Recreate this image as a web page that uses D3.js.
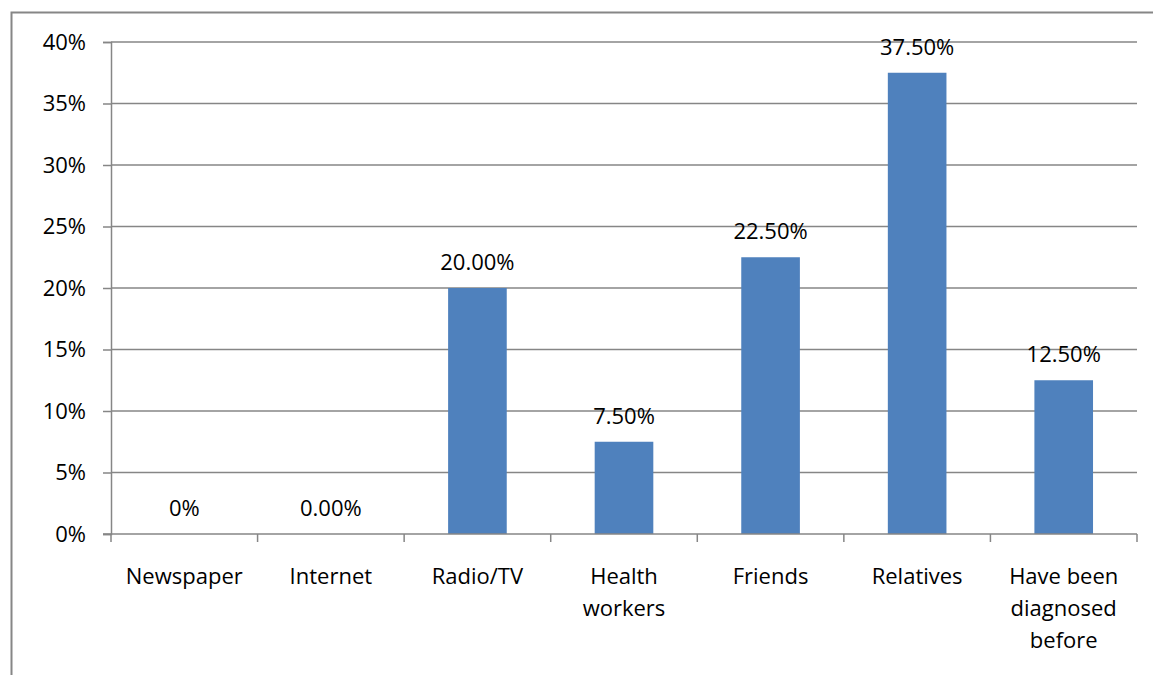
<!DOCTYPE html>
<html>
<head>
<meta charset="utf-8">
<script src="https://cdn.jsdelivr.net/npm/d3@7"></script>
<style>
  body { margin: 0; background: #fff; }
  text { font-family: "Open Sans", sans-serif; fill: #000; }
</style>
</head>
<body>
<svg id="chart" width="1153" height="675"></svg>
<script>
var categories = ["Newspaper", "Internet", "Radio/TV", "Health workers", "Friends", "Relatives", "Have been diagnosed before"];
var categoryLines = [["Newspaper"], ["Internet"], ["Radio/TV"], ["Health", "workers"], ["Friends"], ["Relatives"], ["Have been", "diagnosed", "before"]];
var values = [0, 0, 0.20, 0.075, 0.225, 0.375, 0.125];
var valueLabels = ["0%", "0.00%", "20.00%", "7.50%", "22.50%", "37.50%", "12.50%"];
var yTicks = [0, 0.05, 0.10, 0.15, 0.20, 0.25, 0.30, 0.35, 0.40];

var svg = d3.select("#chart");
var plotLeft = 111, plotRight = 1137, plotTop = 42, plotBottom = 534;
var gray = "#868686";
var fontSize = 22;

// outer chart border (runs off the right and bottom of the picture)
svg.append("rect")
    .attr("x", 11.5).attr("y", 12.5)
    .attr("width", 1200).attr("height", 700)
    .attr("fill", "none").attr("stroke", gray).attr("stroke-width", 2);

var x = d3.scaleBand().domain(categories).range([plotLeft, plotRight]).paddingInner(0.6).paddingOuter(0.3);
var xOuter = d3.scaleBand().domain(categories).range([plotLeft, plotRight]);
var y = d3.scaleLinear().domain([0, 0.4]).range([plotBottom, plotTop]);

// gridlines
svg.append("g").selectAll("line")
    .data(yTicks.slice(1))
  .enter().append("line")
    .attr("x1", plotLeft).attr("x2", plotRight)
    .attr("y1", function(d) { return y(d); }).attr("y2", function(d) { return y(d); })
    .attr("stroke", gray).attr("stroke-width", 1.5);

// bars
svg.append("g").selectAll("rect")
    .data(values)
  .enter().append("rect")
    .attr("x", function(d, i) { return x(categories[i]); })
    .attr("width", x.bandwidth())
    .attr("y", function(d) { return y(d); })
    .attr("height", function(d) { return plotBottom - y(d); })
    .attr("fill", "#4f81bd");

// y axis
var yAxis = svg.append("g")
    .attr("transform", "translate(" + plotLeft + ",0)")
    .call(d3.axisLeft(y).tickValues(yTicks).tickSize(8).tickPadding(17)
        .tickFormat(function(d) { return Math.round(d * 100) + "%"; }));
yAxis.select(".domain").attr("stroke", gray).attr("stroke-width", 1.5);
yAxis.selectAll(".tick line").attr("stroke", gray).attr("stroke-width", 1.5);
yAxis.selectAll("text").attr("font-size", fontSize).attr("fill", "#000")
    .attr("font-family", "'Open Sans', sans-serif");

// x axis line and ticks at category boundaries
svg.append("line")
    .attr("x1", plotLeft - 8).attr("x2", plotRight)
    .attr("y1", plotBottom).attr("y2", plotBottom)
    .attr("stroke", gray).attr("stroke-width", 1.5);
svg.append("g").selectAll("line")
    .data(categories.concat([null]))
  .enter().append("line")
    .attr("x1", function(d, i) { return plotLeft + i * xOuter.step(); })
    .attr("x2", function(d, i) { return plotLeft + i * xOuter.step(); })
    .attr("y1", plotBottom).attr("y2", plotBottom + 8)
    .attr("stroke", gray).attr("stroke-width", 1.5);

// category labels
var cat = svg.append("g").selectAll("text")
    .data(categoryLines)
  .enter().append("text")
    .attr("text-anchor", "middle")
    .attr("font-size", fontSize)
    .attr("x", function(d, i) { return xOuter(categories[i]) + xOuter.bandwidth() / 2; })
    .attr("y", 584);
cat.selectAll("tspan")
    .data(function(d) { return d; })
  .enter().append("tspan")
    .attr("x", function() { return d3.select(this.parentNode).attr("x"); })
    .attr("dy", function(d, i) { return i === 0 ? 0 : 32; })
    .text(function(d) { return d; });

// value labels
svg.append("g").selectAll("text")
    .data(values)
  .enter().append("text")
    .attr("text-anchor", "middle")
    .attr("font-size", fontSize)
    .attr("x", function(d, i) { return xOuter(categories[i]) + xOuter.bandwidth() / 2; })
    .attr("y", function(d) { return y(d) - 18; })
    .text(function(d, i) { return valueLabels[i]; });
</script>
</body>
</html>
